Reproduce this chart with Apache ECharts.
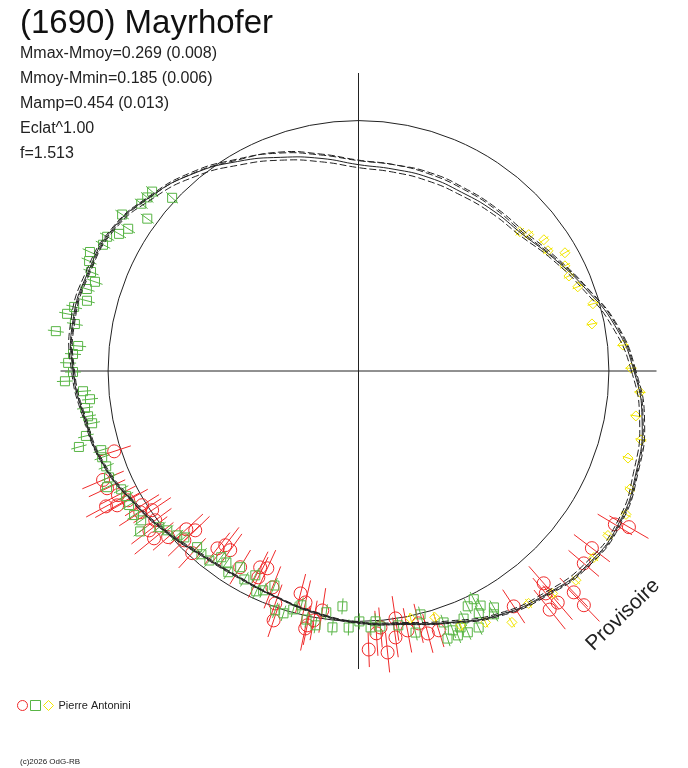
<!DOCTYPE html>
<html>
<head>
  <meta charset="utf-8">
  <title>(1690) Mayrhofer</title>
  <script src="https://cdn.jsdelivr.net/npm/echarts@6/dist/echarts.min.js"></script>
  <style>
    html, body { margin: 0; padding: 0; background: #fff; }
    #chart { width: 688px; height: 768px; }
  </style>
</head>
<body>
<div id="chart"></div>
<script>
// phase angle (degrees) of the fitted curves
var curveAngle = [0, 10, 20, 30, 40, 50, 60, 70, 80, 90, 100, 110, 120, 130, 140, 150, 160, 170, 180,
  190, 200, 210, 220, 230, 240, 250, 260, 270, 280, 290, 300, 310, 320, 330, 340, 350, 360];
// radius (1 = reference circle)
var mainFit = [1.100, 1.040, 0.964, 0.900, 0.852, 0.836, 0.824, 0.822, 0.818, 0.824, 0.862, 0.908, 0.966, 1.028,
  1.084, 1.134, 1.150, 1.158, 1.140, 1.108, 1.084, 1.040, 1.000, 0.964, 0.952, 0.960, 0.980, 1.004, 1.024,
  1.068, 1.124, 1.164, 1.198, 1.204, 1.180, 1.150, 1.100];
var fitA = [1.108, 1.050, 0.972, 0.910, 0.866, 0.852, 0.844, 0.842, 0.836, 0.840, 0.876, 0.926, 0.976, 1.036,
  1.088, 1.138, 1.158, 1.166, 1.146, 1.114, 1.088, 1.044, 1.004, 0.968, 0.956, 0.962, 0.982, 1.006, 1.028,
  1.072, 1.130, 1.172, 1.206, 1.212, 1.188, 1.160, 1.108];
var fitB = [1.090, 1.028, 0.954, 0.892, 0.842, 0.824, 0.812, 0.808, 0.806, 0.812, 0.848, 0.896, 0.950, 1.014,
  1.072, 1.126, 1.142, 1.150, 1.134, 1.104, 1.080, 1.036, 0.996, 0.960, 0.950, 0.958, 0.978, 1.002, 1.020,
  1.062, 1.118, 1.156, 1.188, 1.196, 1.170, 1.140, 1.090];
var fitC = [1.104, 1.046, 0.970, 0.904, 0.858, 0.846, 0.838, 0.836, 0.836, 0.842, 0.880, 0.930, 0.972, 1.030,
  1.082, 1.130, 1.146, 1.154, 1.138, 1.110, 1.086, 1.042, 1.002, 0.966, 0.954, 0.962, 0.984, 1.008, 1.028,
  1.070, 1.126, 1.168, 1.202, 1.208, 1.184, 1.154, 1.104];

// session 1 (red circles)
var redAngle = [198.2, 203.1, 205.0, 208.2, 207.3, 209.1, 209.3, 211.8, 212.9, 214.0, 216.3, 217.3, 219.3, 221.1,
  222.6, 224.3, 224.2, 227.6, 231.5, 232.6, 234.4, 238.9, 243.4, 244.1, 245.2, 248.3, 255.4, 257.1, 250.3,
  251.2, 258.3, 258.6, 261.4, 259.8, 272.1, 275.9, 273.9, 274.9, 278.5, 277.9, 280.7, 284.8, 287.2, 283.4,
  303.4, 311.1, 310.1, 308.7, 310.7, 314.2, 313.9, 319.5, 322.8, 329.1, 330.0];
var redRadius = [1.027, 1.109, 1.108, 1.144, 1.081, 1.103, 1.055, 1.017, 1.038, 0.994, 1.007, 1.050, 1.055, 1.009,
  0.934, 0.911, 0.970, 0.985, 0.905, 0.876, 0.880, 0.915, 0.877, 0.916, 0.868, 0.930, 0.918, 0.948, 0.986,
  1.052, 1.050, 1.036, 0.967, 1.012, 1.113, 1.130, 1.050, 1.028, 0.999, 1.074, 1.054, 1.084, 1.084, 1.036,
  1.126, 1.125, 1.161, 1.221, 1.220, 1.233, 1.298, 1.183, 1.170, 1.193, 1.247];
var redError = [0.07, 0.09, 0.08, 0.09, 0.08, 0.10, 0.09, 0.08, 0.10, 0.09, 0.08, 0.09, 0.10, 0.08,
  0.09, 0.08, 0.09, 0.08, 0.08, 0.09, 0.08, 0.08, 0.07, 0.09, 0.08, 0.09, 0.08, 0.09, 0.08,
  0.07, 0.09, 0.08, 0.09, 0.08, 0.07, 0.08, 0.09, 0.08, 0.09, 0.08, 0.09, 0.08, 0.07, 0.08,
  0.08, 0.09, 0.08, 0.10, 0.09, 0.08, 0.09, 0.08, 0.09, 0.08, 0.09];

// session 2 (green squares)
var greenAngle = [139.0, 140.6, 142.4, 137.1, 146.5, 144.2, 148.3, 150.2, 151.9, 153.7, 156.1, 157.8, 159.7,
  161.3, 163.2, 165.5, 167.3, 168.9, 170.6, 172.5, 174.9, 176.6, 178.4, 180.2, 182.0, 184.2, 186.0, 187.7,
  189.5, 191.1, 193.4, 195.2, 197.1, 198.6, 200.7, 203.1, 204.8, 206.5, 208.3, 210.3, 212.7, 214.5, 216.3,
  218.1, 219.8, 222.2, 223.7, 227.5, 229.4, 231.8, 233.6, 235.4, 237.1, 238.9, 241.3, 243.2, 245.1, 246.5,
  248.6, 250.8, 252.8, 254.7, 256.3, 258.2, 266.1, 262.4, 260.4, 264.2, 267.8, 270.2, 272.7, 273.9, 274.9,
  278.9, 284.3, 282.3, 288.7, 288.4, 290.0, 290.6, 293.0, 294.9, 296.8, 297.5, 296.4, 299.8, 299.1, 295.1,
  292.7, 291.7];
var greenRadius = [1.092, 1.092, 1.095, 1.016, 1.132, 1.040, 1.081, 1.102, 1.138, 1.138, 1.173, 1.162, 1.139,
  1.111, 1.133, 1.120, 1.164, 1.186, 1.148, 1.219, 1.124, 1.142, 1.160, 1.140, 1.173, 1.103, 1.078, 1.102,
  1.095, 1.084, 1.119, 1.157, 1.075, 1.080, 1.077, 1.083, 1.106, 1.059, 1.054, 1.061, 1.065, 1.053, 1.082,
  1.011, 0.994, 0.977, 0.962, 0.954, 0.964, 0.963, 0.924, 0.929, 0.957, 0.915, 0.949, 0.914, 0.970, 0.955,
  0.920, 1.012, 1.013, 0.987, 0.963, 1.014, 0.942, 0.972, 1.030, 1.029, 1.025, 1.000, 1.025, 1.002, 1.024,
  1.028, 1.003, 1.069, 1.060, 1.126, 1.102, 1.128, 1.074, 1.036, 1.021, 1.056, 1.080, 1.088, 1.112, 1.131,
  1.131, 1.102];
var greenError = 0.032;

// session 3 (yellow diamonds)
var yellowAngle = [40.8, 38.7, 35.3, 32.4, 29.8, 27.0, 24.3, 21.0, 16.0, 11.4, 5.6, 0.6, 355.7, 350.8, 346.3,
  342.1, 336.5, 331.8, 326.6, 321.6, 316.1, 311.1, 306.2, 301.4, 296.8, 291.9, 287.2, 281.9];
var yellowRadius = [0.851, 0.871, 0.907, 0.896, 0.950, 0.925, 0.922, 0.938, 0.974, 0.951, 1.061, 1.088, 1.127,
  1.122, 1.161, 1.131, 1.182, 1.212, 1.193, 1.199, 1.205, 1.179, 1.150, 1.176, 1.125, 1.095, 1.030, 1.010];
var yellowError = 0.022;

var RED = '#f02a2a', GREEN = '#58b545', YELLOW = '#f2e600', INK = '#222';
var FONT = 'Liberation Sans, Arial, sans-serif';

function pairs(rs, as, es) {
  return rs.map(function (r, i) {
    return [r, as[i], Array.isArray(es) ? es[i] : es];
  });
}

// symbol + radial error bar
function marker(kind, size, color) {
  return function (params, api) {
    var r = api.value(0), a = api.value(1), e = api.value(2);
    var p = api.coord([r, a]);
    var p0 = api.coord([r - e, a]);
    var p1 = api.coord([r + e, a]);
    var st = { fill: 'none', stroke: color, lineWidth: 1 };
    var h = size / 2;
    var sym;
    if (kind === 'circle') {
      sym = { type: 'circle', shape: { cx: p[0], cy: p[1], r: h }, style: st };
    } else if (kind === 'rect') {
      sym = { type: 'rect', shape: { x: p[0] - h, y: p[1] - h, width: size, height: size }, style: st };
    } else {
      sym = { type: 'polygon', shape: { points: [[p[0], p[1] - h], [p[0] + h, p[1]], [p[0], p[1] + h], [p[0] - h, p[1]]] }, style: st };
    }
    return {
      type: 'group',
      children: [
        { type: 'line', shape: { x1: p0[0], y1: p0[1], x2: p1[0], y2: p1[1] }, style: { stroke: color, lineWidth: 1 } },
        sym
      ]
    };
  };
}

// closed fitted curve, drawn once from all its points (polar line series get clipped at the axis radius)
function fitCurve(vals, dashed) {
  return {
    type: 'custom',
    coordinateSystem: 'polar',
    silent: true,
    z: 3,
    data: vals.map(function (r, i) { return [r, curveAngle[i]]; }),
    renderItem: function (params, api) {
      if (params.dataIndexInside !== 0) return null;
      var pts = [];
      for (var i = 0; i < params.dataInsideLength - 1; i++) {
        pts.push(api.coord([api.value(0, i), api.value(1, i)]));
      }
      return {
        type: 'polygon',
        shape: { points: pts, smooth: 0.5 },
        style: { fill: 'none', stroke: INK, lineWidth: 1, lineDash: dashed ? [7, 3] : null }
      };
    }
  };
}

var chart = echarts.init(document.getElementById('chart'));

var option = {
  backgroundColor: '#fff',
  animation: false,
  title: {
    left: 20,
    top: 6,
    padding: 0,
    itemGap: 0,
    text: '(1690) Mayrhofer',
    subtext: 'Mmax-Mmoy=0.269 (0.008)\nMmoy-Mmin=0.185 (0.006)\nMamp=0.454 (0.013)\nEclat^1.00\nf=1.513',
    textStyle: { fontFamily: FONT, fontSize: 33, fontWeight: 'normal', color: '#111', lineHeight: 35 },
    subtextStyle: { fontFamily: FONT, fontSize: 16, color: INK, lineHeight: 25 }
  },
  legend: {
    left: 17,
    top: 700,
    padding: 0,
    itemWidth: 10,
    itemHeight: 10,
    itemGap: 2,
    selectedMode: false,
    formatter: function (name) { return name === 'Pierre Antonini' ? name : ''; },
    textStyle: { fontFamily: FONT, fontSize: 11, color: INK },
    data: [
      { name: 'r', icon: 'circle', itemStyle: { color: 'rgba(0,0,0,0)', borderColor: RED, borderWidth: 1 } },
      { name: 'g', icon: 'rect', itemStyle: { color: 'rgba(0,0,0,0)', borderColor: GREEN, borderWidth: 1 } },
      { name: 'Pierre Antonini', icon: 'diamond', itemStyle: { color: 'rgba(0,0,0,0)', borderColor: YELLOW, borderWidth: 1 } }
    ]
  },
  polar: { center: [358.5, 371], radius: 298 },
  angleAxis: {
    type: 'value', min: 0, max: 360, interval: 90, startAngle: 0, clockwise: false,
    axisLine: { show: false }, axisTick: { show: false }, axisLabel: { show: false },
    splitLine: { show: true, lineStyle: { color: INK, width: 1 } }
  },
  radiusAxis: {
    type: 'value', min: 0, max: 1.19, interval: 1,
    axisLine: { show: false }, axisTick: { show: false }, axisLabel: { show: false },
    splitLine: { show: true, lineStyle: { color: ['rgba(0,0,0,0)', INK, 'rgba(0,0,0,0)'], width: 1 } }
  },
  graphic: [{
    type: 'text', x: 623, y: 615, rotation: 44 * Math.PI / 180,
    style: { text: 'Provisoire', font: '21px ' + FONT, fill: INK, align: 'center', verticalAlign: 'middle' }
  }, {
    type: 'text', left: 20, top: 758,
    style: { text: '(c)2026 OdG-RB', font: '8px ' + FONT, fill: INK }
  }],
  series: [
    {
      name: 'r', type: 'custom', coordinateSystem: 'polar', z: 2, silent: true,
      itemStyle: { color: RED },
      data: pairs(redRadius, redAngle, redError),
      renderItem: marker('circle', 13, RED)
    },
    {
      name: 'g', type: 'custom', coordinateSystem: 'polar', z: 2, silent: true,
      itemStyle: { color: GREEN },
      data: pairs(greenRadius, greenAngle, greenError),
      renderItem: marker('rect', 9, GREEN)
    },
    {
      name: 'Pierre Antonini', type: 'custom', coordinateSystem: 'polar', z: 2, silent: true,
      itemStyle: { color: YELLOW },
      data: pairs(yellowRadius, yellowAngle, yellowError),
      renderItem: marker('diamond', 10, YELLOW)
    },
    fitCurve(mainFit, false),
    fitCurve(fitA, true),
    fitCurve(fitB, true),
    fitCurve(fitC, true)
  ]
};

chart.setOption(option);
</script>
</body>
</html>
